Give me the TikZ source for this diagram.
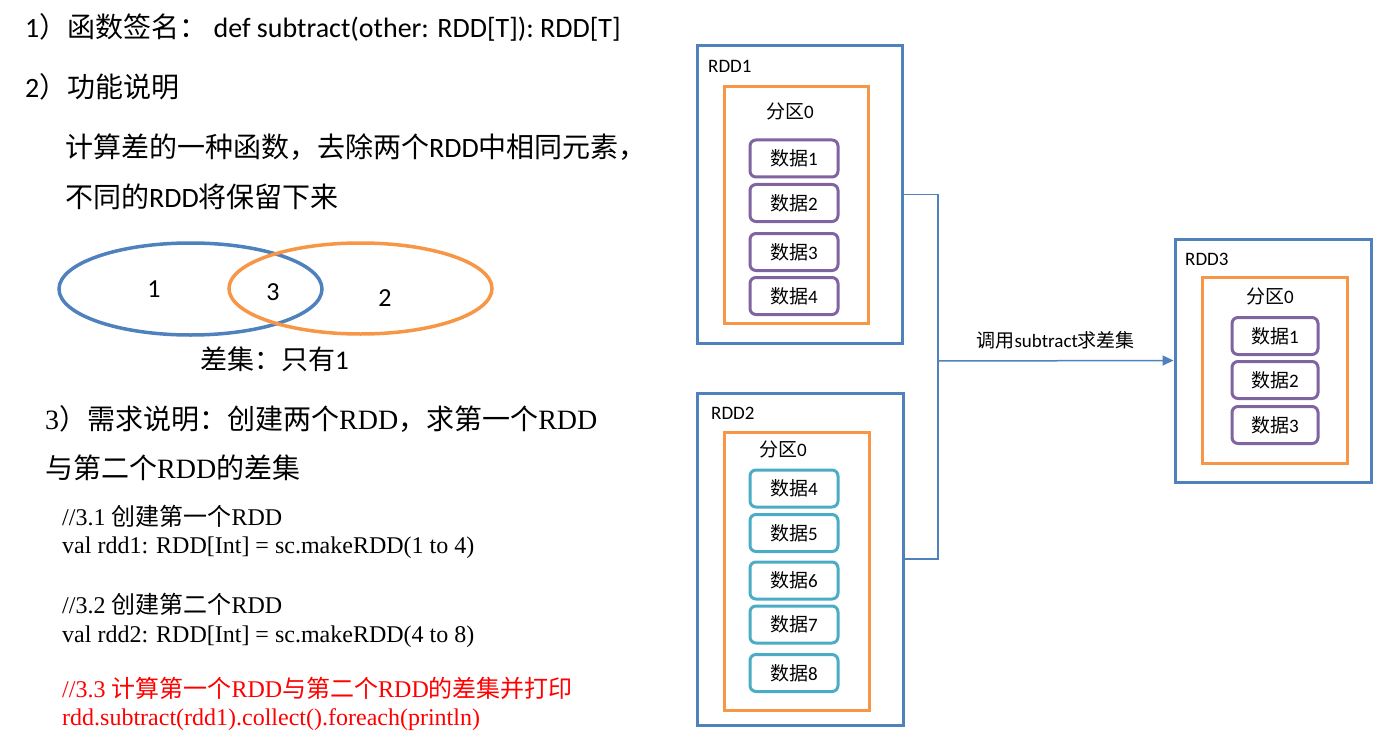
\documentclass[tikz,border=0pt]{standalone}
\usepackage{fontspec}
\setmainfont{Carlito}
\newfontfamily\zh{Noto Sans CJK SC}
\newfontfamily\tnr{Liberation Serif}
\usetikzlibrary{arrows.meta}
\definecolor{rddblue}{HTML}{4F81BD}
\definecolor{partorange}{HTML}{F79646}
\definecolor{datapurple}{HTML}{8064A2}
\definecolor{datateal}{HTML}{4BACC6}
\definecolor{codered}{HTML}{FF0000}

\begin{document}
\begin{tikzpicture}[x=1pt, y=-1pt,
        rddbox/.style={draw=rddblue, line width=3pt, inner sep=0pt},
        partbox/.style={draw=partorange, line width=3pt, inner sep=0pt},
        datap/.style={draw=datapurple, line width=3pt, rounded corners=6pt,
            minimum width=88pt, minimum height=37pt, inner sep=0pt,
            font=\fontsize{19pt}{22pt}\selectfont},
        datat/.style={datap, draw=datateal},
        small/.style={font=\fontsize{19pt}{22pt}\selectfont, inner sep=0pt},
        big/.style={font=\fontsize{28pt}{32pt}\selectfont, anchor=base west, inner sep=0pt},
        serif/.style={font=\tnr\fontsize{28pt}{32pt}\selectfont, anchor=base west, inner sep=0pt},
        code/.style={font=\tnr\fontsize{24pt}{28pt}\selectfont, anchor=base west, inner sep=0pt},
        link/.style={draw=rddblue, line width=1.5pt}]
    \useasboundingbox (0,0) rectangle (1380,738);

    % function signature and description
    \node[big] (sig) at (25,38) {1{\zh ）函数签名：} def subtract(other: RDD[T]): RDD[T]};
    \node[big] (func) at (25,98) {2{\zh ）功能说明}};
    \node[big] (desc1) at (65,158) {{\zh 计算差的一种函数，去除两个}RDD{\zh 中相同元素，}};
    \node[big] (desc2) at (65,207) {{\zh 不同的}RDD{\zh 将保留下来}};

    % Venn diagram
    \draw[rddblue, line width=3.5pt] (190.5,289) ellipse [x radius=131.5pt, y radius=46pt];
    \draw[partorange, line width=3.5pt] (360.5,288.5) ellipse [x radius=131.5pt, y radius=45.5pt];
    \node[big, anchor=base, font=\fontsize{26pt}{30pt}\selectfont] (n1) at (154,297) {1};
    \node[big, anchor=base, font=\fontsize{26pt}{30pt}\selectfont] (n3) at (273,300) {3};
    \node[big, anchor=base, font=\fontsize{26pt}{30pt}\selectfont] (n2) at (385,306) {2};
    \node[big, font=\fontsize{27pt}{32pt}\selectfont] (diff) at (200,369) {{\zh 差集：只有}1};

    % requirement
    \node[serif] (req1) at (45,429) {3{\zh ）需求说明：创建两个}RDD{\zh ，求第一个}RDD};
    \node[serif] (req2) at (45,478) {{\zh 与第二个}RDD{\zh 的差集}};

    % code
    \node[code] (c1) at (62,525) {//3.1 {\zh 创建第一个}RDD};
    \node[code] (c2) at (62,553) {val rdd1: RDD[Int] = sc.makeRDD(1 to 4)};
    \node[code] (c3) at (62,613) {//3.2 {\zh 创建第二个}RDD};
    \node[code] (c4) at (62,642) {val rdd2: RDD[Int] = sc.makeRDD(4 to 8)};
    \node[code, text=codered] (c5) at (62,697) {//3.3 {\zh 计算第一个}RDD{\zh 与第二个}RDD{\zh 的差集并打印}};
    \node[code, text=codered] (c6) at (62,725) {rdd.subtract(rdd1).collect().foreach(println)};

    % RDD1
    \node[rddbox, minimum width=205pt, minimum height=297pt] (rdd1) at (799.5,194.5) {};
    \node[partbox, minimum width=144pt, minimum height=236pt] (part1) at (796,205) {};
    \node[small, anchor=base west] (l1) at (708,73) {RDD1};
    \node[small, anchor=base] (p1) at (790,119) {{\zh 分区}0};
    \foreach \i/\y in {1/158.5, 2/203, 3/252, 4/296}
        \node[datap] (a\i) at (794,\y) {{\zh 数据}\i};

    % RDD2
    \node[rddbox, minimum width=206pt, minimum height=332pt] (rdd2) at (800,559) {};
    \node[partbox, minimum width=145pt, minimum height=278pt] (part2) at (796.5,571) {};
    \node[small, anchor=base west] (l2) at (711,419) {RDD2};
    \node[small, anchor=base] (p2) at (783,456) {{\zh 分区}0};
    \foreach \i/\y in {4/488.5, 5/533, 6/580.5, 7/624.5, 8/673}
        \node[datat] (b\i) at (794,\y) {{\zh 数据}\i};

    % RDD3
    \node[rddbox, minimum width=196pt, minimum height=243pt] (rdd3) at (1273,360.5) {};
    \node[partbox, minimum width=145pt, minimum height=186pt] (part3) at (1274.5,370) {};
    \node[small, anchor=base west] (l3) at (1185,265) {RDD3};
    \node[small, anchor=base] (p3) at (1270,303) {{\zh 分区}0};
    \foreach \i/\y in {1/336, 2/380, 3/425}
        \node[datap, minimum width=86pt] (c\i) at (1275,\y) {{\zh 数据}\i};

    % connectors
    \coordinate (join) at (938,361);
    \draw[link] (rdd1.east) -| (join) |- (rdd2.east);
    \draw[link, -{Triangle[length=11pt, width=10pt]}] (join) -- (rdd3.west)
        node[small, midway, anchor=base, yshift=13pt] (call) {{\zh 调用}subtract{\zh 求差集}};
\end{tikzpicture}
\end{document}
